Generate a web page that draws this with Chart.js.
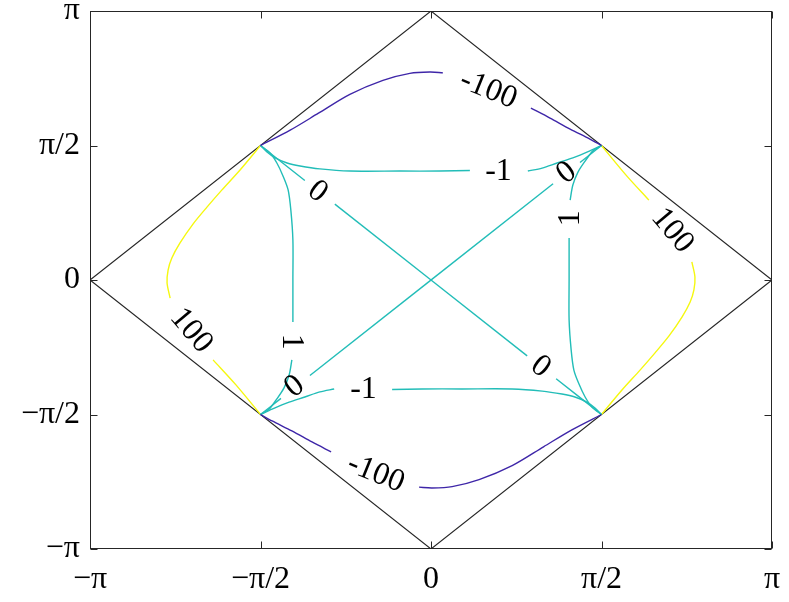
<!DOCTYPE html>
<html>
<head>
<meta charset="utf-8">
<script src="https://cdn.jsdelivr.net/npm/chart.js@4.4.1/dist/chart.umd.min.js"></script>
<style>
body { margin: 0; background: #fff; }
canvas { display: block; }
</style>
</head>
<body>
<canvas id="contour" width="789" height="602"></canvas>
<script>
// all coordinates are in units of pi
var tickValues = [-1, -0.5, 0, 0.5, 1];
var tickLabels = ['\u2212\u03c0', '\u2212\u03c0/2', '0', '\u03c0/2', '\u03c0'];

// boundary of the domain
var diamond = [[0, 1], [1, 0], [0, -1], [-1, 0], [0, 1]];

// contour segments, broken where a label sits
var levelMinus100 = [
	[[-0.5, 0.5], [-0.413, 0.557], [-0.330, 0.620], [-0.238, 0.690], [-0.141, 0.742], [-0.062, 0.768], [-0.003, 0.773], [0.035, 0.770]],
	[[0.293, 0.639], [0.349, 0.602], [0.408, 0.561], [0.466, 0.524], [0.5, 0.5]],
	[[-0.5, -0.5], [-0.466, -0.524], [-0.408, -0.561], [-0.349, -0.602], [-0.293, -0.639]],
	[[-0.035, -0.770], [0.003, -0.773], [0.062, -0.768], [0.141, -0.742], [0.238, -0.690], [0.330, -0.620], [0.413, -0.557], [0.5, -0.5]]
];

var levelMinus1 = [
	[[-0.5, 0.5], [-0.481, 0.476], [-0.457, 0.454], [-0.422, 0.435], [-0.384, 0.424], [-0.326, 0.413], [-0.238, 0.405], [-0.091, 0.405], [0.026, 0.405], [0.114, 0.407]],
	[[0.284, 0.405], [0.326, 0.416], [0.370, 0.435], [0.416, 0.454], [0.466, 0.480], [0.5, 0.5]],
	[[-0.5, -0.5], [-0.466, -0.480], [-0.416, -0.454], [-0.370, -0.435], [-0.326, -0.416], [-0.284, -0.405]],
	[[-0.114, -0.407], [-0.026, -0.405], [0.091, -0.405], [0.238, -0.405], [0.326, -0.413], [0.384, -0.424], [0.422, -0.435], [0.457, -0.454], [0.481, -0.476], [0.5, -0.5]]
];

var level0 = [
	[[-0.5, 0.5], [-0.370, 0.370]],
	[[-0.282, 0.282], [0.282, -0.282]],
	[[0.367, -0.367], [0.5, -0.5]],
	[[0.5, 0.5], [0.437, 0.437]],
	[[0.358, 0.358], [-0.355, -0.355]],
	[[-0.440, -0.440], [-0.5, -0.5]]
];

var level1 = [
	[[-0.5, 0.5], [-0.472, 0.472], [-0.452, 0.435], [-0.434, 0.387], [-0.419, 0.335], [-0.411, 0.260], [-0.405, 0.149], [-0.405, 0], [-0.405, -0.156]],
	[[-0.408, -0.297], [-0.416, -0.353], [-0.431, -0.401], [-0.452, -0.442], [-0.475, -0.480], [-0.5, -0.5]],
	[[0.5, 0.5], [0.475, 0.480], [0.452, 0.442], [0.431, 0.401], [0.416, 0.353], [0.408, 0.297]],
	[[0.405, 0.156], [0.405, 0], [0.405, -0.149], [0.411, -0.260], [0.419, -0.335], [0.434, -0.387], [0.452, -0.435], [0.472, -0.472], [0.5, -0.5]]
];

var level100 = [
	[[-0.5, 0.5], [-0.560, 0.409], [-0.613, 0.335], [-0.657, 0.271], [-0.698, 0.208], [-0.736, 0.138], [-0.760, 0.082], [-0.771, 0.037], [-0.774, -0.011], [-0.765, -0.067]],
	[[-0.639, -0.297], [-0.572, -0.390], [-0.5, -0.5]],
	[[0.5, 0.5], [0.572, 0.390], [0.639, 0.297]],
	[[0.765, 0.067], [0.774, 0.011], [0.771, -0.037], [0.760, -0.082], [0.736, -0.138], [0.698, -0.208], [0.657, -0.271], [0.613, -0.335], [0.560, -0.409], [0.5, -0.5]]
];

// inline contour labels
var labelText = ['-100', '-100', '-1', '-1', '0', '0', '0', '0', '1', '1', '100', '100'];
var labelX = [0.169, -0.161, 0.198, -0.198, -0.331, 0.323, 0.396, -0.402, -0.405, 0.405, -0.701, 0.710];
var labelY = [0.711, -0.716, 0.405, -0.405, 0.331, -0.320, 0.401, -0.394, -0.230, 0.230, -0.186, 0.186];
var labelAngle = [22, 22, 0, 0, 38, 38, -38, -38, 90, -90, 50, 50];

var levels = [
	{segments: levelMinus100, colour: '#3e26a8'},
	{segments: levelMinus1, colour: '#22bdb8'},
	{segments: level0, colour: '#22bdb8'},
	{segments: level1, colour: '#22bdb8'},
	{segments: level100, colour: '#f5f80f'}
];

function toPoints(list) {
	return list.map(function (p) { return {x: p[0], y: p[1]}; });
}

var datasets = [];
levels.forEach(function (level) {
	level.segments.forEach(function (seg) {
		datasets.push({
			data: toPoints(seg),
			borderColor: level.colour,
			borderWidth: 1.4,
			tension: 0.3,
			showLine: true,
			pointRadius: 0,
			fill: false
		});
	});
});
datasets.push({
	data: toPoints(diamond),
	borderColor: '#262626',
	borderWidth: 1.1,
	tension: 0,
	showLine: true,
	pointRadius: 0,
	fill: false
});

var serif = '"Liberation Serif", "DejaVu Serif", serif';

var frame = {
	id: 'frame',
	afterDatasetsDraw: function (chart) {
		var ctx = chart.ctx;
		var a = chart.chartArea;
		var x = chart.scales.x, y = chart.scales.y;

		// contour labels
		ctx.save();
		ctx.fillStyle = '#000';
		ctx.font = '32px ' + serif;
		ctx.textAlign = 'center';
		ctx.textBaseline = 'middle';
		for (var i = 0; i < labelText.length; i++) {
			ctx.save();
			ctx.translate(x.getPixelForValue(labelX[i]), y.getPixelForValue(labelY[i]));
			ctx.rotate(labelAngle[i] * Math.PI / 180);
			ctx.fillText(labelText[i], 0, 1);
			ctx.restore();
		}
		ctx.restore();

		// axes box with inward ticks
		ctx.save();
		ctx.strokeStyle = '#262626';
		ctx.lineWidth = 1;
		var l = Math.round(a.left) + 0.5, r = Math.round(a.right) - 0.5;
		var t = Math.round(a.top) + 0.5, b = Math.round(a.bottom) - 0.5;
		ctx.strokeRect(l, t, r - l, b - t);
		ctx.beginPath();
		tickValues.forEach(function (v) {
			var px = Math.round(x.getPixelForValue(v)) + 0.5;
			ctx.moveTo(px, b); ctx.lineTo(px, b - 7);
			ctx.moveTo(px, t); ctx.lineTo(px, t + 7);
			var py = Math.round(y.getPixelForValue(v)) + 0.5;
			ctx.moveTo(l, py); ctx.lineTo(l + 7, py);
			ctx.moveTo(r, py); ctx.lineTo(r - 7, py);
		});
		ctx.stroke();
		ctx.restore();
	}
};

function fixedTicks(scale) {
	scale.ticks = tickValues.map(function (v) { return {value: v}; });
}

function tickText(value) {
	var i = tickValues.indexOf(value);
	return i < 0 ? '' : tickLabels[i];
}

var chart = new Chart(document.getElementById('contour'), {
	type: 'scatter',
	data: {datasets: datasets},
	plugins: [frame],
	options: {
		responsive: false,
		animation: false,
		layout: {padding: {left: 0, right: 17, top: 11, bottom: 0}},
		plugins: {legend: {display: false}, tooltip: {enabled: false}},
		scales: {
			x: {
				type: 'linear',
				min: -1,
				max: 1,
				grid: {display: false, drawTicks: false},
				border: {display: false},
				afterBuildTicks: fixedTicks,
				afterFit: function (scale) {
					scale.height = 53;
					scale.paddingLeft = 0;
					scale.paddingRight = 0;
				},
				ticks: {
					callback: tickText,
					padding: 11,
					maxRotation: 0,
					color: '#000',
					font: {family: serif, size: 32}
				}
			},
			y: {
				type: 'linear',
				min: -1,
				max: 1,
				grid: {display: false, drawTicks: false},
				border: {display: false},
				afterBuildTicks: fixedTicks,
				afterFit: function (scale) {
					scale.width = 90;
					scale.paddingTop = 0;
					scale.paddingBottom = 0;
				},
				ticks: {
					callback: tickText,
					padding: 10,
					color: '#000',
					font: {family: serif, size: 32}
				}
			}
		}
	}
});
</script>
</body>
</html>
